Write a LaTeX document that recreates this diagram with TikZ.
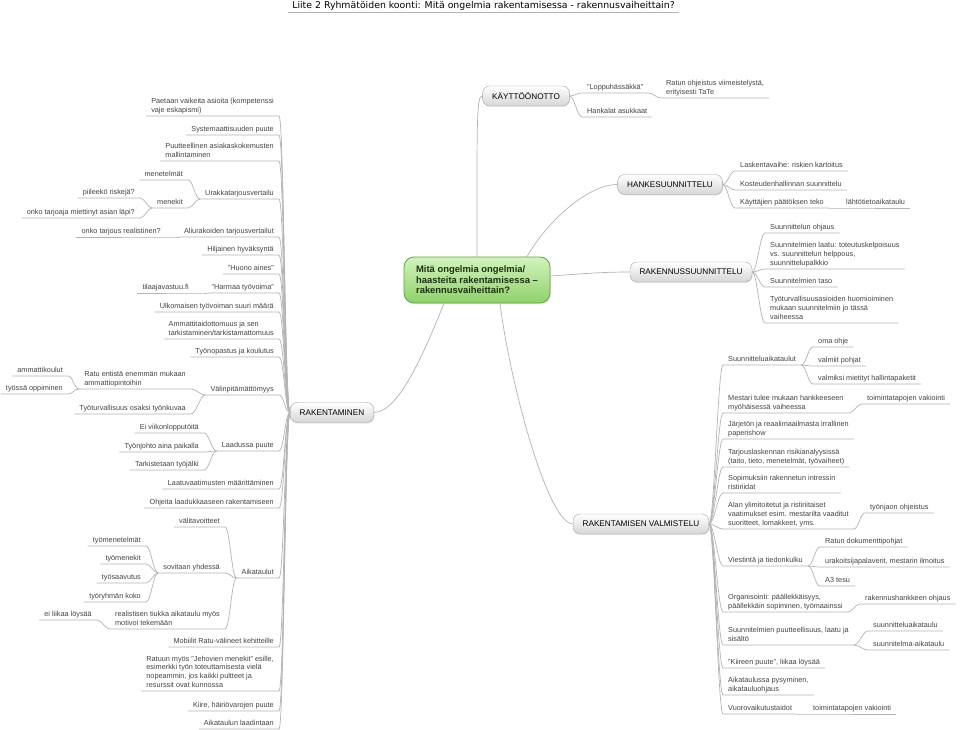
\documentclass[tikz,border=0pt]{standalone}
\usepackage{fontspec}
\setmainfont{Liberation Sans}
\newfontfamily\otsikkoFontti{DejaVu Sans}
\usepackage{tikz}
\usetikzlibrary{shadows}
\definecolor{viivaHarmaa}{HTML}{B4B4B4}
\definecolor{tekstiHarmaa}{HTML}{444444}
\definecolor{reunaHarmaa}{HTML}{A4A4A4}
\definecolor{pohjaHarmaa}{HTML}{D6D6D6}
\definecolor{vaaleaVihrea}{HTML}{D2F4BE}
\definecolor{keskiVihrea}{HTML}{8FD16A}
\definecolor{reunaVihrea}{HTML}{5DA83A}
\definecolor{tummaVihrea}{HTML}{1D3012}
\tikzset{
  viiva/.style={draw=viivaHarmaa,line width=0.7pt},
  yhteys/.style={viiva,to path={.. controls +(5,0) and +(-5,0) .. (\tikztotarget)}},
  haara/.style={font=\fontsize{7.3}{8.6}\selectfont,text=tekstiHarmaa,align=left,
    inner xsep=5pt,inner ysep=2pt,text depth=1.7pt},
  vasen/.style={haara,anchor=south east},
  oikea/.style={haara,anchor=south west},
  paaaihe/.style={draw=reunaHarmaa,rounded corners=7pt,top color=white,bottom color=pohjaHarmaa,
    font=\fontsize{8.2}{9.8}\selectfont,inner xsep=9.5pt,minimum height=20pt,
    drop shadow={opacity=0.18,shadow xshift=0.8pt,shadow yshift=-1pt}},
  keskus/.style={draw=reunaVihrea,line width=0.8pt,rounded corners=10pt,
    top color=vaaleaVihrea,bottom color=keskiVihrea,text=tummaVihrea,
    font=\bfseries\fontsize{9.4}{10.5}\selectfont,align=left,
    minimum width=146pt,minimum height=46pt,
    drop shadow={opacity=0.18,shadow xshift=0.8pt,shadow yshift=-1pt}}
}
\begin{document}
\begin{tikzpicture}[x=1pt,y=-1pt]
\fill[white] (0,0) rectangle (960,730);
\useasboundingbox (0,0) rectangle (960,730);
% otsikko
\node[font=\otsikkoFontti\fontsize{9.35}{11}\selectfont,anchor=base,inner xsep=4pt,inner ysep=1pt,text depth=2.5pt]
  (otsikko) at (483.5,9) {Liite 2 Ryhmätöiden koonti: Mitä ongelmia rakentamisessa - rakennusvaiheittain?};
\draw[viiva] (otsikko.south west) -- (otsikko.south east);
% keskusaihe ja paaaiheet
\node[keskus] (keski) at (477,280) {Mitä ongelmia ongelmia/\\haasteita rakentamisessa –\\rakennusvaiheittain?};
\node[paaaihe] (kaytto) at (526,96) {KÄYTTÖÖNOTTO};
\node[paaaihe] (hanke) at (670,184.5) {HANKESUUNNITTELU};
\node[paaaihe] (rsuunn) at (691,272) {RAKENNUSSUUNNITTELU};
\node[paaaihe] (rakent) at (332,412.5) {RAKENTAMINEN};
\node[paaaihe] (valmist) at (641,524) {RAKENTAMISEN VALMISTELU};
\draw[viiva] (keski.north) .. controls +(0,-140) and +(-6,0) .. (kaytto.west);
\draw[viiva] ([xshift=50pt]keski.north) .. controls +(20,-35) and +(-30,0) .. (hanke.west);
\draw[viiva] ([yshift=4pt]keski.east) .. controls +(30,-2) and +(-30,0) .. (rsuunn.west);
\draw[viiva] ([xshift=-33pt]keski.south) .. controls +(-19,47) and +(25,0) .. (rakent.east);
\draw[viiva] ([xshift=23pt]keski.south) .. controls +(10,80) and +(-25,0) .. (valmist.west);
% vasen haara: rakentaminen
\node[vasen] (paetaan) at (279,116) {Paetaan vaikeita asioita (kompetenssi\\vaje eskapismi)};
\node[vasen] (systPuute) at (279,135) {Systemaattisuuden puute};
\node[vasen] (asiakas) at (279,161) {Puutteellinen asiakaskokemusten\\mallintaminen};
\node[vasen] (urakka) at (279,199) {Urakkatarjousvertailu};
\node[vasen] (menetelmat) at (188,180) {menetelmät};
\node[vasen] (menekit) at (188,208) {menekit};
\node[vasen] (piileeko) at (140,198) {piileekö riskejä?};
\node[vasen] (onkoLapi) at (140,218) {onko tarjoaja miettinyt asian läpi?};
\node[vasen] (aliurakka) at (279,237) {Aliurakoiden tarjousvertailut};
\node[vasen] (realistinen) at (166,237) {onko tarjous realistinen?};
\node[vasen] (hiljainen) at (279,255) {Hiljainen hyväksyntä};
\node[vasen] (huono) at (279,274) {"Huono aines"};
\node[vasen] (harmaa) at (279,293) {"Harmaa työvoima"};
\node[vasen] (tilaaja) at (194,293) {tilaajavastuu.fi};
\node[vasen] (ulkomaiset) at (279,312) {Ulkomaisen työvoiman suuri määrä};
\node[vasen] (ammattitaito) at (279,339) {Ammattitaidottomuus ja sen\\tarkistaminen/tarkistamattomuus};
\node[vasen] (tyonopastus) at (279,357) {Työnopastus ja koulutus};
\node[vasen] (valinpit) at (279,395) {Välinpitämättömyys};
\node[vasen] (ratuAmm) at (191,389) {Ratu entistä enemmän mukaan\\ammattiopintoihin};
\node[vasen] (tyoturva) at (191,414) {Työturvallisuus osaksi työnkuvaa};
\node[vasen] (amKoulut) at (68,376) {ammattikoulut};
\node[vasen] (tyossaOpp) at (68,394) {työssä oppiminen};
\node[vasen] (laatuPuute) at (279,451) {Laadussa puute};
\node[vasen] (viikonloppu) at (204,433) {Ei viikonlopputöitä};
\node[vasen] (tyonjohto) at (204,452) {Työnjohto aina paikalla};
\node[vasen] (tyojalki) at (204,470) {Tarkistetaan työjälki};
\node[vasen] (laatuvaat) at (279,489) {Laatuvaatimusten määrittäminen};
\node[vasen] (ohjeita) at (279,508) {Ohjeita laadukkaaseen rakentamiseen};
\node[vasen] (aikataulut) at (279,578) {Aikataulut};
\node[vasen] (valitavoitteet) at (225,527) {välitavoitteet};
\node[vasen] (sovitaan) at (225,573) {sovitaan yhdessä};
\node[vasen] (tiukka) at (225,629) {realistisen tiukka aikataulu myös\\motivoi tekemään};
\node[vasen] (tyomenet) at (146,546) {työmenetelmät};
\node[vasen] (tyomenekit) at (146,564) {työmenekit};
\node[vasen] (tyosaavutus) at (146,583) {työsaavutus};
\node[vasen] (tyoryhma) at (146,602) {työryhmän koko};
\node[vasen] (loysaa) at (97,620) {ei liikaa löysää};
\node[vasen] (mobiilit) at (279,647) {Mobiilit Ratu-välineet kehitteille};
\node[vasen] (jehovat) at (279,691) {Ratuun myös "Jehovien menekit" esille,\\esimerkki työn toteuttamisesta vielä\\nopeammin, jos kaikki pultteet ja\\resurssit ovat kunnossa};
\node[vasen] (kiire) at (279,711) {Kiire, häiriövarojen puute};
\node[vasen] (laadinta) at (279,729) {Aikataulun laadintaan};
\foreach \n in {paetaan,systPuute,asiakas,urakka,aliurakka,hiljainen,huono,harmaa,ulkomaiset,
  ammattitaito,tyonopastus,valinpit,laatuPuute,laatuvaat,ohjeita,aikataulut,mobiilit,jehovat,kiire,laadinta}
  \draw[yhteys] (\n.south west) -- (\n.south east) to (rakent.west);
\foreach \n/\p in {menetelmat/urakka,menekit/urakka,piileeko/menekit,onkoLapi/menekit,
  realistinen/aliurakka,tilaaja/harmaa,ratuAmm/valinpit,tyoturva/valinpit,amKoulut/ratuAmm,
  tyossaOpp/ratuAmm,viikonloppu/laatuPuute,tyonjohto/laatuPuute,tyojalki/laatuPuute,
  valitavoitteet/aikataulut,sovitaan/aikataulut,tiukka/aikataulut,tyomenet/sovitaan,
  tyomenekit/sovitaan,tyosaavutus/sovitaan,tyoryhma/sovitaan,loysaa/tiukka}
  \draw[yhteys] (\n.south west) -- (\n.south east) to (\p.south west);
% oikeat haarat
\node[oikea] (loppu) at (582,93) {"Loppuhässäkkä"};
\node[oikea] (ratunOhje) at (661,98) {Ratun ohjeistus viimeistelystä,\\erityisesti TaTe};
\node[oikea] (hankalat) at (582,117) {Hankalat asukkaat};
\node[oikea] (laskenta) at (735,171) {Laskentavaihe: riskien kartoitus};
\node[oikea] (kosteus) at (735,190) {Kosteudenhallinnan suunnittelu};
\node[oikea] (kayttajat) at (735,208) {Käyttäjien päätöksen teko};
\node[oikea] (lahtotieto) at (841,208) {lähtötietoaikataulu};
\node[oikea] (suunnOhjaus) at (765,233) {Suunnittelun ohjaus};
\node[oikea] (suunnLaatu) at (765,269) {Suunnitelmien laatu: toteutuskelpoisuus\\vs. suunnittelun helppous,\\suunnittelupalkkio};
\node[oikea] (suunnTaso) at (765,287) {Suunnitelmien taso};
\node[oikea] (tyoturvaSuunn) at (765,323) {Työturvallisuusasioiden huomioiminen\\mukaan suunnitelmiin jo tässä\\vaiheessa};
\node[oikea] (suunnAik) at (723,365) {Suunnitteluaikataulut};
\node[oikea] (omaOhje) at (813,347) {oma ohje};
\node[oikea] (pohjat) at (813,366) {valmiit pohjat};
\node[oikea] (hallinta) at (813,384) {valmiksi mietityt hallintapaketit};
\node[oikea] (mestari) at (723,413) {Mestari tulee mukaan hankkeeseen\\myöhäisessä vaiheessa};
\node[oikea] (vakiointi) at (862,404) {toimintatapojen vakiointi};
\node[oikea] (paperishow) at (723,439) {Järjetön ja reaalimaailmasta irrallinen\\paperishow};
\node[oikea] (tarjous) at (723,467) {Tarjouslaskennan risikianalyysissä\\(taito, tieto, menetelmät, työvaiheet)};
\node[oikea] (sopimukset) at (723,493) {Sopimuksiin rakennetun intressin\\ristiriidat};
\node[oikea] (ylimitoitetut) at (723,529) {Alan ylimitoitetut ja ristiriitaiset\\vaatimukset esim. mestarilta vaaditut\\suoritteet, lomakkeet, yms.};
\node[oikea] (tyonjako) at (865,513) {työnjaon ohjeistus};
\node[oikea] (viestinta) at (723,566) {Viestintä ja tiedonkulku};
\node[oikea] (dokumentit) at (820,547) {Ratun dokumenttipohjat};
\node[oikea] (palaverit) at (820,567) {urakoitsijapalaverit, mestarin ilmoitus};
\node[oikea] (a3tesu) at (820,586) {A3 tesu};
\node[oikea] (organisointi) at (723,612) {Organisointi: päällekkäisyys,\\päällekkäin sopiminen, työmaainssi};
\node[oikea] (hankeOhjaus) at (860,604) {rakennushankkeen ohjaus};
\node[oikea] (puutteet) at (723,645) {Suunnitelmien puutteellisuus, laatu ja\\sisältö};
\node[oikea] (suunnAikataulu) at (868,631) {suunnitteluaikataulu};
\node[oikea] (suunnitelmaAik) at (868,650) {suunnitelma-aikataulu};
\node[oikea] (kiireenPuute) at (723,668) {"Kiireen puute", liikaa löysää};
\node[oikea] (pysyminen) at (723,695) {Aikataulussa pysyminen,\\aikatauluohjaus};
\node[oikea] (vuorovaikutus) at (723,714) {Vuorovaikutustaidot};
\node[oikea] (vakiointi2) at (808,714) {toimintatapojen vakiointi};
\foreach \n/\p in {loppu/kaytto,hankalat/kaytto,laskenta/hanke,kosteus/hanke,kayttajat/hanke,
  suunnOhjaus/rsuunn,suunnLaatu/rsuunn,suunnTaso/rsuunn,tyoturvaSuunn/rsuunn,
  suunnAik/valmist,mestari/valmist,paperishow/valmist,tarjous/valmist,sopimukset/valmist,
  ylimitoitetut/valmist,viestinta/valmist,organisointi/valmist,puutteet/valmist,
  kiireenPuute/valmist,pysyminen/valmist,vuorovaikutus/valmist}
  \draw[yhteys] (\p.east) to (\n.south west) -- (\n.south east);
\foreach \n/\p in {ratunOhje/loppu,lahtotieto/kayttajat,omaOhje/suunnAik,pohjat/suunnAik,
  hallinta/suunnAik,vakiointi/mestari,tyonjako/ylimitoitetut,dokumentit/viestinta,
  palaverit/viestinta,a3tesu/viestinta,hankeOhjaus/organisointi,suunnAikataulu/puutteet,
  suunnitelmaAik/puutteet,vakiointi2/vuorovaikutus}
  \draw[yhteys] (\p.south east) to (\n.south west) -- (\n.south east);
\end{tikzpicture}
\end{document}
